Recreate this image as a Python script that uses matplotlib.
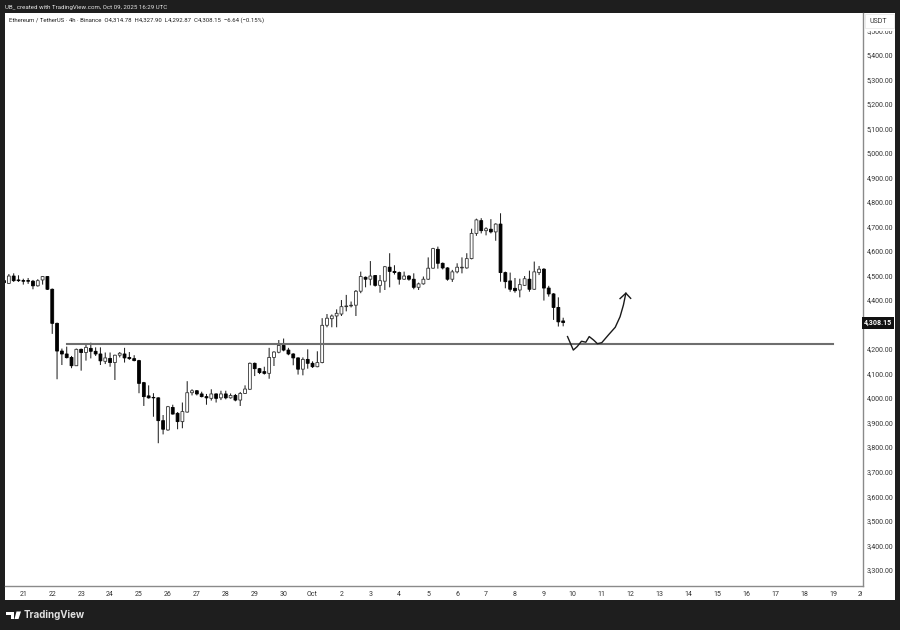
import matplotlib
matplotlib.use('Agg')
import matplotlib.pyplot as plt
import numpy as np
from matplotlib.patches import Rectangle, Polygon, Circle
from matplotlib.transforms import Bbox

opens = [4479, 4468, 4498, 4482, 4479, 4479, 4477, 4458, 4482, 4496,
         4444, 4305, 4192, 4180, 4166, 4132, 4199, 4186, 4203, 4191,
         4180, 4150, 4162, 4145, 4175, 4180, 4166, 4161, 4153, 4063,
         4009, 4003, 4001, 3908, 3870, 3962, 3938, 3904, 3943, 4022,
         4030, 4017, 4006, 3999, 4017, 4001, 4017, 4001, 4011, 3992,
         4019, 4036, 4142, 4120, 4108, 4101, 4166, 4187, 4215, 4196,
         4180, 4164, 4118, 4158, 4142, 4128, 4145, 4297, 4324, 4335,
         4343, 4373, 4376, 4379, 4436, 4493, 4485, 4500, 4460, 4477,
         4534, 4517, 4512, 4485, 4498, 4485, 4452, 4466, 4485, 4530,
         4607, 4550, 4531, 4485, 4515, 4531, 4531, 4569, 4672, 4724,
         4683, 4689, 4678, 4710, 4512, 4478, 4448, 4441, 4460, 4485,
         4444, 4512, 4526, 4449, 4425, 4370, 4314.78]
highs = [4485, 4506, 4509, 4501, 4487, 4490, 4482, 4485, 4498, 4498,
         4447, 4308, 4202, 4210, 4172, 4202, 4202, 4217, 4226, 4207,
         4207, 4186, 4186, 4177, 4188, 4205, 4188, 4175, 4156, 4066,
         4052, 4020, 4003, 3931, 3968, 3973, 3943, 3982, 4069, 4036,
         4033, 4026, 4017, 4036, 4019, 4030, 4030, 4019, 4017, 4025,
         4052, 4145, 4145, 4123, 4128, 4205, 4191, 4237, 4243, 4205,
         4183, 4166, 4166, 4199, 4150, 4191, 4326, 4343, 4341, 4362,
         4400, 4421, 4394, 4441, 4516, 4496, 4559, 4502, 4502, 4539,
         4591, 4542, 4516, 4516, 4502, 4509, 4471, 4496, 4574, 4613,
         4618, 4553, 4534, 4523, 4550, 4574, 4591, 4691, 4732, 4734,
         4697, 4730, 4713, 4754, 4516, 4512, 4490, 4487, 4498, 4520,
         4557, 4539, 4530, 4458, 4428, 4411, 4327.9]
lows = [4468, 4466, 4474, 4474, 4463, 4466, 4444, 4455, 4463, 4441,
        4262, 4077, 4135, 4162, 4122, 4131, 4112, 4153, 4162, 4172,
        4135, 4139, 4128, 4074, 4166, 4145, 4156, 4150, 4020, 3968,
        3998, 3924, 3816, 3852, 3867, 3933, 3873, 3877, 3941, 4011,
        4011, 4003, 3973, 3990, 3982, 3992, 3995, 3998, 3987, 3968,
        4017, 4033, 4090, 4098, 4096, 4079, 4131, 4183, 4191, 4175,
        4134, 4096, 4093, 4120, 4123, 4126, 4142, 4289, 4289, 4289,
        4335, 4354, 4370, 4335, 4428, 4452, 4460, 4455, 4430, 4441,
        4452, 4504, 4463, 4482, 4479, 4444, 4441, 4463, 4482, 4528,
        4528, 4525, 4479, 4474, 4509, 4509, 4528, 4566, 4662, 4672,
        4664, 4672, 4642, 4475, 4448, 4434, 4430, 4411, 4458, 4434,
        4441, 4502, 4398, 4414, 4319, 4292, 4292.87]
closes = [4471, 4498, 4479, 4479, 4477, 4477, 4458, 4479, 4496, 4444,
          4305, 4192, 4180, 4165, 4132, 4199, 4186, 4207, 4191, 4180,
          4152, 4164, 4145, 4175, 4183, 4164, 4161, 4153, 4060, 4006,
          4001, 4001, 3908, 3873, 3965, 3935, 3904, 3945, 4022, 4030,
          4017, 4006, 4001, 4017, 3999, 4017, 4001, 4011, 3992, 4019,
          4037, 4142, 4120, 4104, 4101, 4166, 4188, 4215, 4196, 4180,
          4164, 4118, 4158, 4142, 4128, 4145, 4297, 4326, 4335, 4346,
          4373, 4376, 4379, 4436, 4496, 4485, 4498, 4460, 4479, 4536,
          4517, 4512, 4485, 4498, 4485, 4452, 4466, 4485, 4530, 4610,
          4550, 4531, 4485, 4515, 4534, 4534, 4569, 4672, 4727, 4683,
          4691, 4678, 4710, 4512, 4475, 4444, 4438, 4463, 4487, 4444,
          4515, 4526, 4449, 4425, 4370, 4311, 4308.15]

first_bar = -4
day_labels = ['21', '22', '23', '24', '25', '26', '27', '28', '29', '30', 'Oct',
              '2', '3', '4', '5', '6', '7', '8', '9', '10', '11', '12', '13',
              '14', '15', '16', '17', '18', '19', '20']
bars_per_day = 6
price_ticks = np.arange(3300, 5501, 100)
hidden_tick = 4300

level_price = 4219
level_bars = [9, 168]
sketch_bars = [112.9, 114.1, 114.9, 115.8, 116.7, 117.4, 118.3, 119.1, 120,
               121.4, 122.8, 123.8, 124.5, 125]
sketch_prices = [4251, 4196, 4210, 4232, 4228, 4251, 4237, 4222, 4226,
                 4258, 4289, 4332, 4380, 4428]
head_bars = [123.8, 125, 126]
head_prices = [4406, 4428, 4407]

W, H = 900, 630
BG = '#1e1e1e'
plt.rcParams['font.family'] = ['Roboto', 'DejaVu Sans']


def fx(px):
    return px / W


def fy(py):
    return 1 - py / H


fig = plt.figure(figsize=(9, 6.3), dpi=100, facecolor=BG)
# white panel behind the chart with both axis strips
fig.patches.append(Rectangle((fx(5), fy(600)), 890 / W, 587 / H, transform=fig.transFigure,
                             fc='white', ec='none', zorder=-1))
ax = fig.add_axes([fx(5), fy(586), 858 / W, 573 / H], facecolor='white')
ax.set_xlim(-3.8, 174.2)
ax.set_ylim(3233.5, 5571)

# candles
x = np.arange(len(opens)) + first_bar
o, c = np.array(opens), np.array(closes)
ax.vlines(x, lows, highs, color='#222222', lw=0.75, zorder=2, snap=False)
up = c >= o
ax.bar(x[up], c[up] - o[up], 0.6, bottom=o[up], fc='white', ec='#333333', lw=0.6, zorder=3, snap=False)
ax.bar(x[~up], o[~up] - c[~up], 0.6, bottom=c[~up], fc='black', ec='black', lw=0.6, zorder=3, snap=False)

ax.plot(level_bars, [level_price, level_price], color='#6e6e6e', lw=1.5, zorder=4)
ax.plot(sketch_bars, sketch_prices, color='#1a1a1a', lw=1.0, zorder=5)
ax.plot(head_bars, head_prices, color='#1a1a1a', lw=1.0, zorder=5)

ax.xaxis.set_ticks(np.arange(len(day_labels)) * bars_per_day)
ax.set_xticklabels(day_labels)
ax.yaxis.tick_right()
ax.set_yticks(price_ticks)
ax.set_yticklabels(['' if p == hidden_tick else f'{p:,.2f}' for p in price_ticks])
ax.tick_params(axis='x', length=0, pad=3.5, labelsize=5, labelcolor='#333333')
ax.tick_params(axis='y', length=0, pad=2.5, labelsize=5, labelcolor='#333333')
for s in ['top', 'left']:
    ax.spines[s].set_visible(False)
for s in ['right', 'bottom']:
    ax.spines[s].set_color('#8a8a8a')
    ax.spines[s].set_linewidth(1.0)

# last tick is cut by the price strip
last = ax.get_xticklabels()[-1]
last.set_clip_on(True)
last.set_clip_box(Bbox([[0, 0], [862, 630]]))

fig.text(fx(5), fy(7), 'UB_ created with TradingView.com, Oct 09, 2025 16:29 UTC',
         color='#e6e6e6', fontsize=4.4, va='center')
ax.text(fx(9), fy(20), 'Ethereum / TetherUS · 4h · Binance  O4,314.78  H4,327.90  L4,292.87  C4,308.15  −6.64 (−0.15%)',
        transform=fig.transFigure, color='#222222', fontsize=4.3, va='center', zorder=6)

# USDT box hides the top of the 5,500 label
fig.patches.append(Rectangle((fx(865), fy(31)), 29 / W, 17 / H, transform=fig.transFigure,
                             fc='white', ec='none', zorder=5))
fig.patches.append(Rectangle((fx(865), fy(28)), 29 / W, 14 / H, transform=fig.transFigure,
                             fc='white', ec='#e4e4e4', lw=0.5, zorder=5))
fig.text(fx(869), fy(21.5), 'USDT', color='#333333', fontsize=5, va='center', zorder=6)

# last price tag
ax.text(fx(878), fy(323), '4,308.15', transform=fig.transFigure, color='white',
        fontsize=5, fontweight='bold', ha='center', va='center', zorder=7, clip_on=False,
        bbox=dict(boxstyle='square,pad=0.35', fc='#111111', ec='none'))

# logo
logo = [Polygon([(6, 611.5), (14, 611.5), (14, 619), (10.5, 619), (10.5, 614.5), (6, 614.5)]),
        Polygon([(16.5, 611.5), (21, 611.5), (18.5, 619), (14.5, 619)])]
for p in logo:
    p.set_xy([(fx(a), fy(b)) for a, b in p.get_xy()])
    p.set_transform(fig.transFigure)
    p.set_facecolor('white')
    p.set_edgecolor('none')
    fig.patches.append(p)
fig.text(fx(24), fy(615), 'TradingView', color='#e0e0e0', fontsize=7, fontweight='bold',
         family=['Inter', 'DejaVu Sans'], va='center')

fig.savefig('out.png', dpi=100, facecolor=BG)
